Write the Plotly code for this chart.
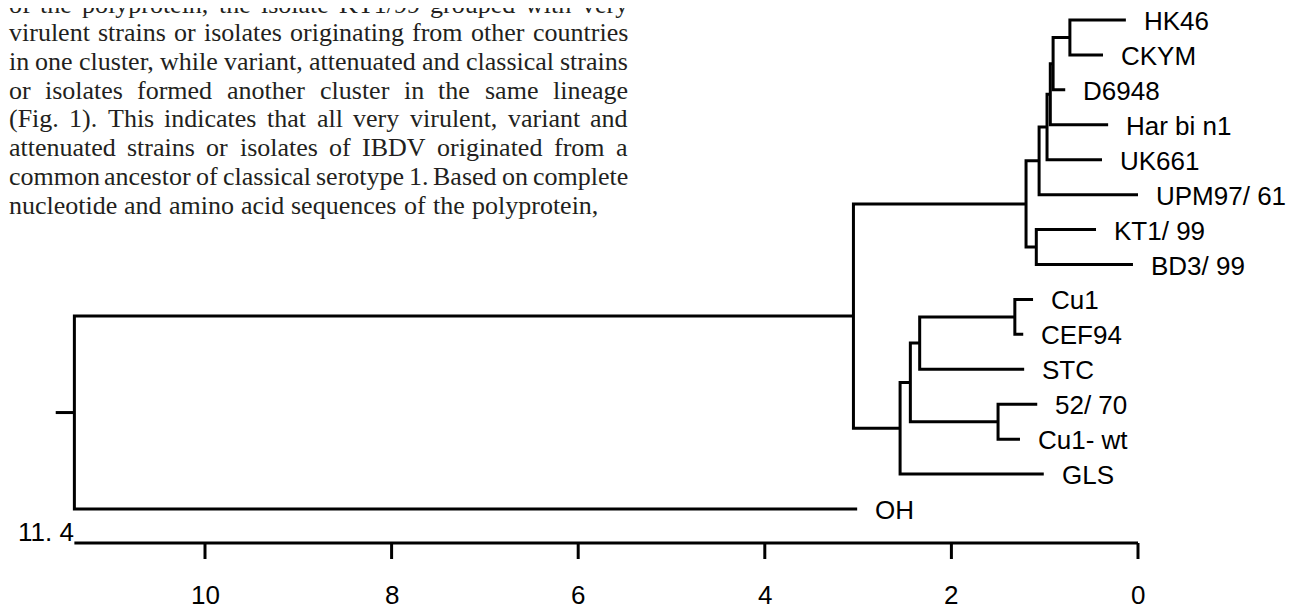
import plotly.graph_objects as go

# ---------------- data ----------------
leaf_names = ["HK46", "CKYM", "D6948", "Har bi n1", "UK661", "UPM97/ 61", "KT1/ 99", "BD3/ 99",
              "Cu1", "CEF94", "STC", "52/ 70", "Cu1- wt", "GLS", "OH"]
leaf_dist = [0.13, 0.375, 0.78, 0.32, 0.386, 0.0, 0.45, 0.054,
             1.125, 1.23, 1.22, 1.08, 1.265, 1.01, 3.01]

node_names = ["F", "G", "H", "I", "B", "C", "A", "T", "S", "U", "R", "Q", "P", "root"]
node_children = [["HK46", "CKYM"], ["F", "D6948"], ["G", "Har bi n1"], ["H", "UK661"],
                 ["I", "UPM97/ 61"], ["KT1/ 99", "BD3/ 99"], ["B", "C"],
                 ["Cu1", "CEF94"], ["T", "STC"], ["52/ 70", "Cu1- wt"], ["S", "U"],
                 ["R", "GLS"], ["A", "Q"], ["P", "OH"]]
node_dist = [0.73, 0.91, 0.94, 0.975, 1.06, 1.09, 1.20, 1.32, 2.34, 1.50, 2.44, 2.55, 3.05, 11.4]
root_stem = 0.2

scale_ticks = [0, 2, 4, 6, 8, 10]
scale_max = 11.4
scale_max_label = "11. 4"

paragraph_lines = [
    "of the polyprotein, the isolate KT1/99 grouped with very",
    "virulent strains or isolates originating from other countries",
    "in one cluster, while variant, attenuated and classical strains",
    "or isolates formed another cluster in the same lineage",
    "(Fig. 1). This indicates that all very virulent, variant and",
    "attenuated strains or isolates of IBDV originated from a",
    "common ancestor of classical serotype 1. Based on complete",
    "nucleotide and amino acid sequences of the polyprotein,",
]

# ---------------- geometry / style ----------------
W, H = 1301, 610
OFF = 8                      # page margin around the figure
PX_PER_UNIT = 93.3
X0_SCREEN = 1138             # screen x of distance 0
LEAF0_SCREEN, LEAF_STEP = 20, 34.93
X_RANGE = [(X0_SCREEN - OFF) / PX_PER_UNIT, (X0_SCREEN - OFF - W) / PX_PER_UNIT]
Y_RANGE = [(H - (LEAF0_SCREEN - OFF)) / LEAF_STEP, -(LEAF0_SCREEN - OFF) / LEAF_STEP]
LW = 3
SANS = "Liberation Sans, Arial, sans-serif"
SERIF = "Liberation Serif, Times New Roman, serif"


def ydata(screen_px):
    return (screen_px - LEAF0_SCREEN) / LEAF_STEP


AXIS_Y = ydata(543)
TICK_Y = ydata(559)
TICKLAB_Y = ydata(595)
MAXLAB_Y = ydata(532)

# positions
dist = dict(zip(leaf_names, leaf_dist))
ypos = {n: i for i, n in enumerate(leaf_names)}
for n, ch, d in zip(node_names, node_children, node_dist):
    dist[n] = d
    ypos[n] = sum(ypos[c] for c in ch) / len(ch)

xs, ys = [], []
for n, ch in zip(node_names, node_children):
    c1, c2 = ch
    xs += [dist[c1], dist[n], dist[n], dist[c2], None]
    ys += [ypos[c1], ypos[c1], ypos[c2], ypos[c2], None]
xs += [dist["root"] + root_stem, dist["root"], None]
ys += [ypos["root"], ypos["root"], None]

# scale bar
sx = [scale_max, 0, None]
sy = [AXIS_Y, AXIS_Y, None]
for t in scale_ticks:
    sx += [t, t, None]
    sy += [AXIS_Y, TICK_Y, None]

fig = go.Figure()
fig.add_trace(go.Scatter(x=xs, y=ys, mode="lines",
                         line=dict(color="black", width=LW),
                         hoverinfo="skip", showlegend=False))
fig.add_trace(go.Scatter(x=sx, y=sy, mode="lines",
                         line=dict(color="black", width=LW),
                         hoverinfo="skip", showlegend=False))

annotations = []
for n in leaf_names:
    annotations.append(dict(x=dist[n], y=ypos[n], xref="x", yref="y", text=n,
                            showarrow=False, xanchor="left", yanchor="middle",
                            xshift=18, yshift=-1, borderpad=0, borderwidth=0,
                            font=dict(family=SANS, size=26, color="black")))

for t in scale_ticks:
    annotations.append(dict(x=t, y=TICKLAB_Y, xref="x", yref="y", text=str(t),
                            showarrow=False, xanchor="center", yanchor="middle",
                            borderpad=0, borderwidth=0,
                            font=dict(family=SANS, size=26, color="black")))

annotations.append(dict(x=scale_max, y=MAXLAB_Y, xref="x", yref="y",
                        text=scale_max_label, showarrow=False, xanchor="right",
                        yanchor="middle", borderpad=0, borderwidth=0,
                        font=dict(family=SANS, size=26, color="black")))

# justified paragraph (Times metrics)
tw = {' ': 250, ',': 250, '.': 250, '(': 333, ')': 333, '/': 278}
tw.update({c: 500 for c in "0123456789"})
tw.update(dict(zip("abcdefghijklmnopqrstuvwxyz",
                   [444, 500, 444, 500, 444, 333, 500, 500, 278, 278, 500, 278, 778, 500, 500,
                    500, 500, 333, 389, 278, 500, 500, 722, 500, 500, 444])))
tw.update(dict(zip("ABCDEFGHIJKLMNOPQRSTUVWXYZ",
                   [722, 667, 667, 722, 611, 556, 722, 722, 333, 389, 722, 611, 889, 722, 722,
                    556, 722, 667, 556, 611, 722, 722, 944, 722, 722, 611])))
PSIZE = 26
LEFT = 8.5
rights = [628, 628, 628, 628, 628, 628, 628, 598]
for k, line in enumerate(paragraph_lines):
    words = line.split(" ")
    wl = [sum(tw.get(c, 500) for c in w) / 1000 * PSIZE for w in words]
    gap = (rights[k] - LEFT - sum(wl)) / (len(words) - 1)
    x = LEFT
    yc = 4.2 + 28.7 * k
    for w, wv in zip(words, wl):
        annotations.append(dict(x=(x - OFF) / W, y=1 - (yc - OFF) / H,
                                xref="paper", yref="paper", text=w,
                                showarrow=False, xanchor="left", yanchor="middle",
                                borderpad=0, borderwidth=0,
                                font=dict(family=SERIF, size=PSIZE, color="#231f20")))
        x += wv + gap

fig.update_layout(
    width=W, height=H, margin=dict(l=0, r=0, t=0, b=0),
    paper_bgcolor="white", plot_bgcolor="white", showlegend=False,
    xaxis=dict(range=X_RANGE, visible=False, domain=[0, 1]),
    yaxis=dict(range=Y_RANGE, visible=False, domain=[0, 1]),
    annotations=annotations,
)

fig.write_html("out.html")
